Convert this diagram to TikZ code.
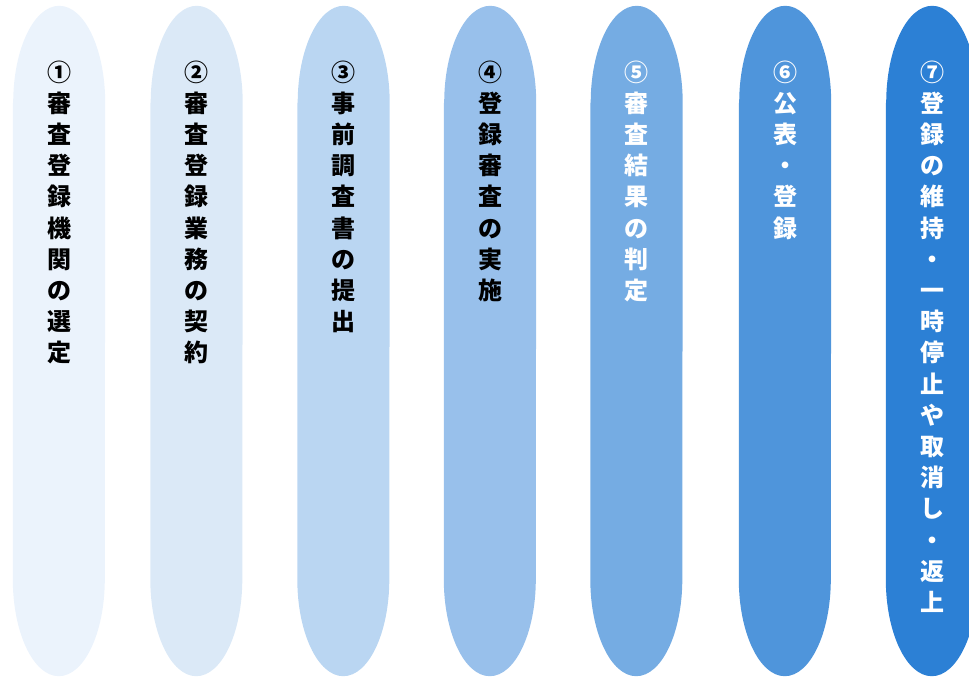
\documentclass[tikz,border=0pt]{standalone}
\usepackage{fontspec}
\newfontfamily\jpfont{Noto Sans CJK JP}
\definecolor{tintA}{HTML}{EBF3FC}
\definecolor{tintB}{HTML}{DBE9F7}
\definecolor{tintC}{HTML}{BAD6F2}
\definecolor{tintD}{HTML}{98C0EB}
\definecolor{tintE}{HTML}{75ACE3}
\definecolor{tintF}{HTML}{4F95DB}
\definecolor{tintG}{HTML}{2C80D5}

\begin{document}
\begin{tikzpicture}[x=1pt, y=1pt,
  stagebox/.style={rectangle, draw=none, inner sep=0pt,
    minimum width=92pt, minimum height=670pt},
  endcap/.style={x radius=46pt, y radius=97pt},
  glyph/.style={font=\jpfont\bfseries\fontsize{24}{24}\selectfont,
    inner sep=0pt, text height=21.1pt, text depth=2.9pt}]

  % --- canvas ---
  \useasboundingbox (0,0) rectangle (969,678);
  \clip (0,0) rectangle (969,678);

  % --- seven stages, one glyph per row ---
  \foreach \k/\x/\tint/\ink/\chars in {
      1/59/tintA/black/{①,審,査,登,録,機,関,の,選,定},
      2/196.5/tintB/black/{②,審,査,登,録,業,務,の,契,約},
      3/343.5/tintC/black/{③,事,前,調,査,書,の,提,出},
      4/490/tintD/black/{④,登,録,審,査,の,実,施},
      5/636.5/tintE/white/{⑤,審,査,結,果,の,判,定},
      6/785/tintF/white/{⑥,公,表,・,登,録},
      7/932/tintG/white/{⑦,登,録,の,維,持,・,一,時,停,止,や,取,消,し,・,返,上}} {
    \node[stagebox] (s\k) at (\x,337) {};
    \fill[\tint] ([yshift=-97pt]s\k.north west)
      -- ([yshift=97pt]s\k.south west)
      arc[endcap, start angle=180, end angle=360]
      -- ([yshift=-97pt]s\k.north east)
      arc[endcap, start angle=0, end angle=180] -- cycle;
    \foreach \c [count=\j] in \chars
      \node[glyph, text=\ink] (g\k-\j) at (\x,{606-31.2*(\j-1)}) {\c};
  }
\end{tikzpicture}
\end{document}
